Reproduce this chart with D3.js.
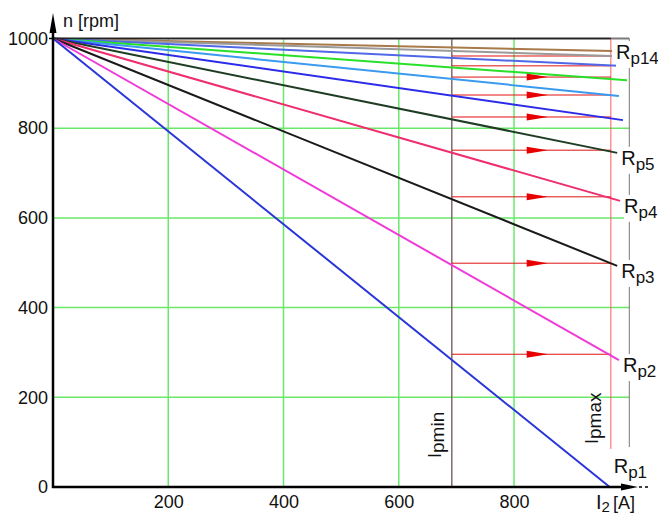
<!DOCTYPE html>
<html>
<head>
<meta charset="utf-8">
<script src="https://cdn.jsdelivr.net/npm/d3@7"></script>
<style>
  body { margin: 0; background: #fff; }
  svg { display: block; font-family: Arial, "Liberation Sans", sans-serif; }
</style>
</head>
<body>
<svg id="graph" width="658" height="516"></svg>
<script>
/*
 * Starting resistor characteristics n(I2) for Rp1 .. Rp14
 */

// Where each resistor line ends: current [A] and speed [rpm]
var endCurrent = [966, 982, 979, 984, 979, 989, 982, 996, 980, 970, 970];
var endSpeed   = [0, 283, 493, 638, 745, 818, 872, 907, 939, 961, 972];
var lineColors = ["#2a35d8", "#f03ad8", "#1a1a1a", "#ee2e6e", "#1f3d24", "#2b2be8",
                  "#3a9af0", "#28e028", "#5068e8", "#9a9a9a", "#a87a4a"];

// Labels and the line each one belongs to
var labelSubs = ["p1", "p2", "p3", "p4", "p5", "p14"];
var labelLine = [0, 1, 2, 3, 4, 10];

// Switching currents and the speeds where the resistor is switched
var iMin = 692, iMax = 968;
var switchSpeed = [296, 499, 647, 751, 825, 874, 914, 939, 961];
var nArrows = 7;

// Axis ticks
var xTicks = [200, 400, 600, 800];
var yTicks = [0, 200, 400, 600, 800, 1000];

var svg = d3.select("#graph");

var x = d3.scaleLinear().domain([0, 1000]).range([53, 629.3]);
var y = d3.scaleLinear().domain([0, 1000]).range([487, 38.5]);

// Green grid
var grid = svg.append("g").attr("stroke", "#6ae86a").attr("stroke-width", 1.5);
xTicks.forEach(function(t) {
    grid.append("line").attr("x1", x(t)).attr("x2", x(t)).attr("y1", y(0)).attr("y2", y(1000));
});
yTicks.filter(t => t > 0 && t < 1000).forEach(function(t) {
    grid.append("line").attr("x1", x(0)).attr("x2", x(1000)).attr("y1", y(t)).attr("y2", y(t));
});

// Frame: top and right
svg.append("line").attr("x1", x(0)).attr("x2", x(1000)).attr("y1", y(1000)).attr("y2", y(1000))
    .attr("stroke", "#7a7a7a").attr("stroke-width", 2);
svg.append("line").attr("x1", x(1000)).attr("x2", x(1000)).attr("y1", y(1000)).attr("y2", y(89))
    .attr("stroke", "#777").attr("stroke-width", 1);

// Ipmin and Ipmax lines
svg.append("line").attr("x1", x(iMin)).attr("x2", x(iMin)).attr("y1", y(1000)).attr("y2", y(0))
    .attr("stroke", "#806a6a").attr("stroke-width", 1.5);
svg.append("line").attr("x1", x(iMax)).attr("x2", x(iMax)).attr("y1", y(1000)).attr("y2", y(85))
    .attr("stroke", "#ff5a5a").attr("stroke-width", 1);

// Switching steps
switchSpeed.forEach(function(n, i) {
    svg.append("line").attr("x1", x(iMin)).attr("x2", x(iMax)).attr("y1", y(n)).attr("y2", y(n))
        .attr("stroke", "#e01010").attr("stroke-width", 1);
    if (i < nArrows) {
        var xb = x(822), xt = x(859), yy = y(n);
        svg.append("path")
            .attr("d", "M" + xb + "," + (yy - 3.5) + "L" + xt + "," + yy + "L" + xb + "," + (yy + 3.5) + "Z")
            .attr("fill", "#e80000");
    }
});

// Resistor lines, all starting at (0, 1000)
var line = d3.line().x(p => x(p[0])).y(p => y(p[1]));
for (var i = endCurrent.length - 1; i >= 0; --i) {
    svg.append("path").datum([[0, 1000], [endCurrent[i], endSpeed[i]]])
        .attr("fill", "none")
        .attr("stroke", lineColors[i])
        .attr("stroke-width", 2)
        .attr("d", line);
}
// no-load line along the top
svg.append("path").datum([[0, 1000], [iMax, 1000]])
    .attr("fill", "none").attr("stroke", "#222").attr("stroke-width", 1.5).attr("d", line);

// Axes (tick labels by d3, arrow lines drawn by hand)
var xAxis = d3.axisBottom(x).tickValues(xTicks).tickSize(0).tickPadding(8).tickFormat(d3.format("d"));
var yAxis = d3.axisLeft(y).tickValues(yTicks).tickSize(0).tickPadding(5).tickFormat(d3.format("d"));
svg.append("g").attr("transform", "translate(0," + y(0) + ")").call(xAxis)
    .call(g => g.select(".domain").remove())
    .attr("font-size", 18).attr("font-family", "Arial, 'Liberation Sans', sans-serif");
svg.append("g").attr("transform", "translate(" + x(0) + ",0)").call(yAxis)
    .call(g => g.select(".domain").remove())
    .attr("font-size", 18).attr("font-family", "Arial, 'Liberation Sans', sans-serif");
svg.selectAll(".tick text").attr("fill", "#111");

var ax = svg.append("g");
ax.append("line").attr("x1", x(0)).attr("x2", x(0)).attr("y1", y(0) + 1).attr("y2", 24)
    .attr("stroke", "#000").attr("stroke-width", 2.5);
ax.append("path").attr("d", "M" + x(0) + ",13L" + (x(0) + 3.5) + ",33L" + (x(0) - 3.5) + ",33Z").attr("fill", "#000");
ax.append("line").attr("x1", x(0) - 1).attr("x2", 626).attr("y1", y(0)).attr("y2", y(0))
    .attr("stroke", "#000").attr("stroke-width", 2.5);
ax.append("path").attr("d", "M638," + y(0) + "L621," + (y(0) - 3.5) + "L621," + (y(0) + 3.5) + "Z").attr("fill", "#000");
ax.append("line").attr("x1", 639).attr("x2", 651).attr("y1", y(0)).attr("y2", y(0))
    .attr("stroke", "#000").attr("stroke-width", 1.5).attr("stroke-dasharray", "3,3");
ax.append("line").attr("x1", x(0) - 4).attr("x2", x(0)).attr("y1", y(1000)).attr("y2", y(1000))
    .attr("stroke", "#000").attr("stroke-width", 1.5);

// Axis titles
svg.append("text").attr("x", 63).attr("y", 27).attr("font-size", 18).attr("fill", "#111").text("n [rpm]");
var xt = svg.append("text").attr("x", 596).attr("y", 509).attr("fill", "#111");
xt.append("tspan").attr("font-size", 20).text("I");
xt.append("tspan").attr("font-size", 15).attr("dy", 3).text("2");
xt.append("tspan").attr("font-size", 18).attr("dy", -3).attr("dx", 3).text("[A]");

// Resistor labels
labelSubs.forEach(function(s, k) {
    var li = labelLine[k];
    var lx = x(endCurrent[li]) + 4,
        ly = y(endSpeed[li]) + (k == 0 ? -14 : (k == labelSubs.length - 1 ? 8 : 12));
    var g = svg.append("g");
    var t = g.append("text").attr("x", lx).attr("y", ly).attr("fill", "#111");
    t.append("tspan").attr("font-size", 20).text("R");
    t.append("tspan").attr("font-size", 17).attr("dy", 5).text(s);
    var b = t.node().getBBox();
    g.insert("rect", "text").attr("x", b.x).attr("y", b.y).attr("width", b.width).attr("height", b.height)
        .attr("fill", "#fff");
});

// Ipmin / Ipmax vertical labels
function vlabel(px, py, sub) {
    var t = svg.append("text").attr("transform", "translate(" + px + "," + py + ") rotate(-90)").attr("fill", "#111");
    t.append("tspan").attr("font-size", 18).text("I");
    t.append("tspan").attr("font-size", 19).attr("dy", 3).text(sub);
}
vlabel(441, 458, "pmin");
vlabel(598, 444, "pmax");
</script>
</body>
</html>
